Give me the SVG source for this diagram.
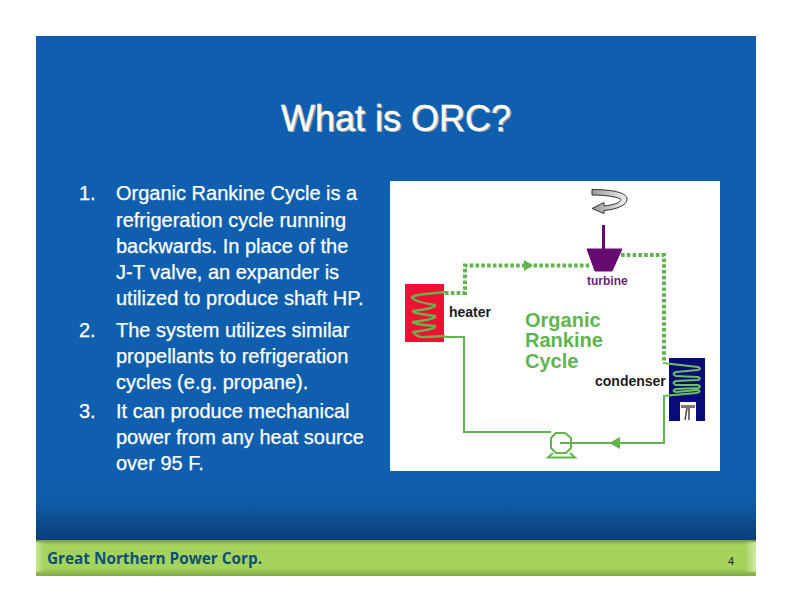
<svg xmlns="http://www.w3.org/2000/svg" width="792" height="612" viewBox="0 0 792 612">
<defs>
<linearGradient id="fade" x1="0" y1="0" x2="0" y2="1"><stop offset="0" stop-color="#0f5fae"/><stop offset="0.35" stop-color="#0f5ca8"/><stop offset="1" stop-color="#0a3f78"/></linearGradient>
<linearGradient id="bar" x1="0" y1="0" x2="0" y2="1"><stop offset="0" stop-color="#7c9a3c"/><stop offset="0.14" stop-color="#a4d35e"/><stop offset="0.78" stop-color="#a4d35e"/><stop offset="1" stop-color="#82a844"/></linearGradient>
<linearGradient id="barL" x1="0" y1="0" x2="1" y2="0"><stop offset="0" stop-color="#c8e69a"/><stop offset="1" stop-color="#c8e69a" stop-opacity="0"/></linearGradient>
<linearGradient id="barR" x1="1" y1="0" x2="0" y2="0"><stop offset="0" stop-color="#d0eaa4"/><stop offset="1" stop-color="#d0eaa4" stop-opacity="0"/></linearGradient>
<linearGradient id="arrowfill" x1="0" y1="0" x2="1" y2="0"><stop offset="0" stop-color="#999"/><stop offset="1" stop-color="#eee"/></linearGradient>
</defs>
<style>
text{font-family:"Liberation Sans",Arial,sans-serif}
.b{font-size:20px;fill:#fff;stroke:#fff;stroke-width:.25px}
.t{font-size:36px;fill:#fff;stroke:#fff;stroke-width:.4px}
.ts{font-size:36px;fill:#9a9a9a}
.lab{font-size:14px;font-weight:bold;fill:#1c1c1c}
.org{font-size:20px;font-weight:bold;fill:#5fb450}
.dot{fill:none;stroke:#62b44e;stroke-width:4;stroke-dasharray:3.6 2.2}
.pipe{fill:none;stroke:#62b44e;stroke-width:2}
.coil{fill:none;stroke:#6eae4c;stroke-width:2.4;stroke-linejoin:round}
.head{fill:#62b44e}
</style>
<rect width="792" height="612" fill="#fff"/>
<g id="slide">
<rect x="36" y="36" width="720" height="504" fill="#0f5fae"/>
<rect x="36" y="480" width="720" height="60" fill="url(#fade)"/>
<rect x="36" y="540" width="720" height="36" fill="url(#bar)"/>
<rect x="36" y="542" width="8" height="30" fill="url(#barL)"/>
<rect x="745" y="542" width="11" height="30" fill="url(#barR)"/>
<text x="47" y="564" font-size="16" font-weight="bold" fill="#104f74" style="font-family:'Open Sans','Liberation Sans',sans-serif" textLength="215" lengthAdjust="spacingAndGlyphs">Great Northern Power Corp.</text>
<text x="728" y="565" font-size="11" fill="#223">4</text>
</g>
<g id="title">
<text class="ts" x="282.500" y="132">What is ORC?</text>
<text class="t" x="281" y="131">What is ORC?</text>
</g>
<g id="bullets">
<text class="b" x="79" y="200">1.</text>
<text class="b" x="116" y="200">Organic Rankine Cycle is a</text>
<text class="b" x="116" y="227">refrigeration cycle running</text>
<text class="b" x="116" y="253">backwards. In place of the</text>
<text class="b" x="116" y="279">J-T valve, an expander is</text>
<text class="b" x="116" y="305">utilized to produce shaft HP.</text>
<text class="b" x="79" y="337">2.</text>
<text class="b" x="116" y="337">The system utilizes similar</text>
<text class="b" x="116" y="363">propellants to refrigeration</text>
<text class="b" x="116" y="389">cycles (e.g. propane).</text>
<text class="b" x="79" y="418">3.</text>
<text class="b" x="116" y="418">It can produce mechanical</text>
<text class="b" x="116" y="444">power from any heat source</text>
<text class="b" x="116" y="470">over 95 F.</text>
</g>
<rect id="panel" x="390" y="181" width="330" height="290" fill="#fff"/>
<g id="connectors">
<path class="dot" d="M445 293H465V265.500H590"/>
<path class="head" d="M524 260L533 265.500L524 271Z"/>
<path class="dot" d="M621 255H664V361"/>
<path class="pipe" d="M445 337H464V432H551"/>
<path class="pipe" d="M664 396V443H560"/>
<path class="head" d="M609 443L620 437V449Z"/>
</g>
<g id="heater">
<rect x="405" y="284" width="39" height="58" fill="#ee1133"/>
<path class="coil" d="M445 292L425 294Q410 296 412 298Q416 302 435 305Q437 308 413 311Q411 313 435 316Q437 319 413 322Q411 324 435 326Q437 329 413 332Q418 338 425 337L445 336"/>
<text class="lab" x="449" y="317">heater</text>
</g>
<g id="turbine">
<path d="M587 249H622L612 271H595Z" fill="#660a70" stroke="#660a70"/>
<path d="M603.500 225V250" stroke="#660a70" stroke-width="3" fill="none"/>
<text x="587" y="285" font-size="12" font-weight="bold" fill="#6f1f78">turbine</text>
</g>
<g id="shaft-rotation">
<path d="M592 189.500C605 189.500 627 191 627 199C627 206 615 209.500 604 210.500V213.500L592 208.500L604 202.500V206C613 205 620 203 621 199.500C619 197 605 195 592 195Z" fill="url(#arrowfill)" stroke="#333" stroke-width="1"/>
</g>
<g id="cycle-label">
<text class="org" x="525" y="327">Organic</text>
<text class="org" x="525" y="347">Rankine</text>
<text class="org" x="525" y="368">Cycle</text>
</g>
<g id="condenser">
<path d="M669 358H705V421H696V402H680V421H669Z" fill="#0a0a78"/>
<path d="M681 405H695V408H681Z" fill="#777"/>
<path d="M687 408L685 420M689 408V420" stroke="#444" stroke-width="1.500" fill="none"/>
<path class="coil" d="M663 363L698 367Q702 369 698 370L676 372Q671 374 676 376L698 377Q702 379 698 380L676 381Q671 383 676 385L698 385Q702 387 698 388L676 389Q671 391 676 392L698 390Q702 392 696 393L663 396" style="stroke:#6cc060;stroke-width:2"/>
<text class="lab" x="595" y="386">condenser</text>
</g>
<g id="pump" fill="none" stroke="#62b44e" stroke-width="2">
<path d="M556 433H565L571 438V448L566 453H556L551 448V438Z"/>
<path d="M553 453L548 457.500H575L570 453"/>
</g>
</svg>
